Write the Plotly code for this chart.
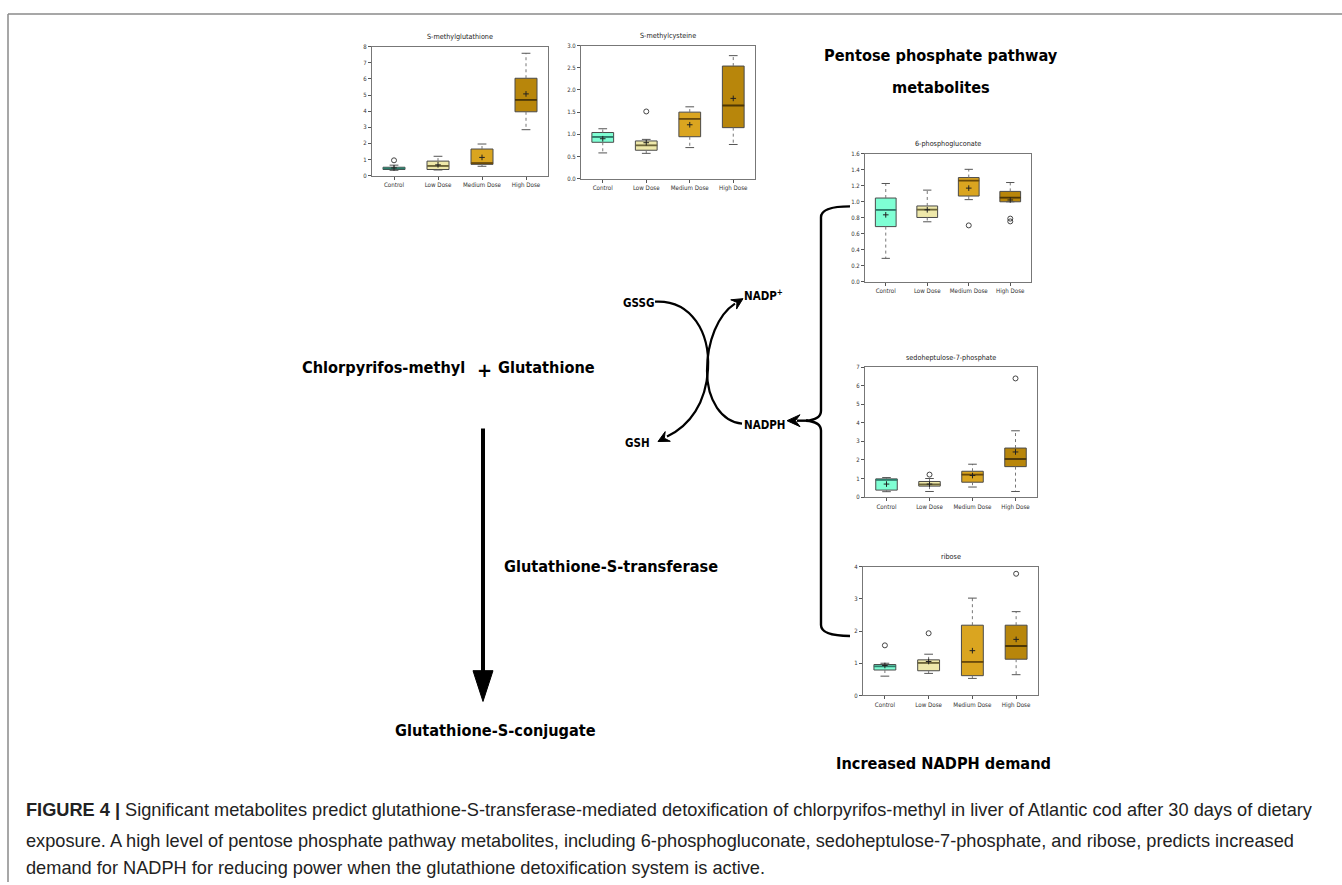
import math
import plotly.graph_objects as go

W, H = 1342, 885

# ---------------- data ----------------
categories = ["Control", "Low Dose", "Medium Dose", "High Dose"]

# S-methylglutathione
smglut_lower = [0.33, 0.35, 0.58, 2.85]
smglut_q1 = [0.38, 0.38, 0.70, 3.96]
smglut_median = [0.45, 0.60, 0.78, 4.70]
smglut_q3 = [0.52, 0.90, 1.65, 6.04]
smglut_upper = [0.65, 1.20, 1.96, 7.59]
smglut_mean = [0.48, 0.67, 1.13, 5.07]
smglut_out_group = [0]
smglut_out_value = [0.95]
smglut_ticks = [0, 1, 2, 3, 4, 5, 6, 7, 8]

# S-methylcysteine
smcys_lower = [0.58, 0.57, 0.70, 0.77]
smcys_q1 = [0.82, 0.64, 0.945, 1.15]
smcys_median = [0.94, 0.75, 1.35, 1.65]
smcys_q3 = [1.04, 0.85, 1.50, 2.54]
smcys_upper = [1.125, 0.885, 1.62, 2.775]
smcys_mean = [0.90, 0.81, 1.215, 1.81]
smcys_out_group = [1]
smcys_out_value = [1.515]
smcys_ticks = [0.0, 0.5, 1.0, 1.5, 2.0, 2.5, 3.0]

# 6-phosphogluconate
pg6_lower = [0.293, 0.75, 1.027, 1.0]
pg6_q1 = [0.69, 0.804, 1.072, 1.0]
pg6_median = [0.90, 0.903, 1.266, 1.052]
pg6_q3 = [1.047, 0.948, 1.303, 1.13]
pg6_upper = [1.229, 1.146, 1.406, 1.241]
pg6_mean = [0.837, 0.90, 1.171, 1.023]
pg6_out_group = [2, 3, 3]
pg6_out_value = [0.705, 0.79, 0.755]
pg6_ticks = [0.0, 0.2, 0.4, 0.6, 0.8, 1.0, 1.2, 1.4, 1.6]

# sedoheptulose-7-phosphate
s7p_lower = [0.29, 0.30, 0.54, 0.30]
s7p_q1 = [0.375, 0.59, 0.80, 1.64]
s7p_median = [0.93, 0.68, 1.21, 2.05]
s7p_q3 = [0.98, 0.84, 1.39, 2.64]
s7p_upper = [1.05, 1.00, 1.77, 3.57]
s7p_mean = [0.70, 0.70, 1.16, 2.43]
s7p_out_group = [1, 3]
s7p_out_value = [1.21, 6.39]
s7p_ticks = [0, 1, 2, 3, 4, 5, 6, 7]

# ribose
rib_lower = [0.60, 0.685, 0.53, 0.645]
rib_q1 = [0.79, 0.767, 0.614, 1.125]
rib_median = [0.90, 1.013, 1.043, 1.535]
rib_q3 = [0.96, 1.105, 2.18, 2.18]
rib_upper = [1.0, 1.28, 3.02, 2.60]
rib_mean = [0.93, 1.054, 1.39, 1.74]
rib_out_group = [0, 1, 3]
rib_out_value = [1.555, 1.93, 3.775]
rib_ticks = [0, 1, 2, 3, 4]

# ---------------- styles ----------------
NARROW = "DejaVu Sans Condensed, Liberation Sans Narrow, sans-serif"
SANS = "Liberation Sans, Arial, Helvetica, sans-serif"
fills = ["#7FFFD4", "#EEE8AA", "#DAA520", "#B8860B"]
median_cols = ["#2E7D6B", "#6E6638", "#6B4A08", "#4D3705"]
box_line = "#4a4a4a"

charts = [
    dict(title="S-methylglutathione", lower=smglut_lower, q1=smglut_q1, med=smglut_median, q3=smglut_q3,
         upper=smglut_upper, mean=smglut_mean, og=smglut_out_group, ov=smglut_out_value,
         ticks=smglut_ticks, fmt="d", px=(372, 548, 43, 173)),
    dict(title="S-methylcysteine", lower=smcys_lower, q1=smcys_q1, med=smcys_median, q3=smcys_q3,
         upper=smcys_upper, mean=smcys_mean, og=smcys_out_group, ov=smcys_out_value,
         ticks=smcys_ticks, fmt=".1f", px=(581, 755, 42, 176)),
    dict(title="6-phosphogluconate", lower=pg6_lower, q1=pg6_q1, med=pg6_median, q3=pg6_q3,
         upper=pg6_upper, mean=pg6_mean, og=pg6_out_group, ov=pg6_out_value,
         ticks=pg6_ticks, fmt=".1f", px=(865, 1031, 151, 280)),
    dict(title="sedoheptulose-7-phosphate", lower=s7p_lower, q1=s7p_q1, med=s7p_median, q3=s7p_q3,
         upper=s7p_upper, mean=s7p_mean, og=s7p_out_group, ov=s7p_out_value,
         ticks=s7p_ticks, fmt="d", px=(865, 1037, 366, 497)),
    dict(title="ribose", lower=rib_lower, q1=rib_q1, med=rib_median, q3=rib_q3,
         upper=rib_upper, mean=rib_mean, og=rib_out_group, ov=rib_out_value,
         ticks=rib_ticks, fmt="d", px=(863, 1038, 567, 697)),
]

fig = go.Figure()
layout = dict(width=W, height=H, margin=dict(l=0, r=0, t=0, b=0),
              paper_bgcolor="white", plot_bgcolor="white", showlegend=False)
annotations = []
shapes = []


def X(x):
    return x / W


def Y(y):
    return 1 - y / H


for k, c in enumerate(charts, start=1):
    xs = "x" if k == 1 else f"x{k}"
    ys = "y" if k == 1 else f"y{k}"
    x0, x1, y0, y1 = c["px"]
    for g in range(4):
        fig.add_trace(go.Box(
            x=[g], q1=[c["q1"][g]], median=[c["med"][g]], q3=[c["q3"][g]],
            lowerfence=[c["q1"][g]], upperfence=[c["q3"][g]],
            width=0.5, fillcolor=fills[g], line=dict(color=box_line, width=1),
            whiskerwidth=0, boxpoints=False, hoverinfo="skip",
            xaxis=xs, yaxis=ys))
    # whiskers (dotted) and caps
    wx, wy, cx, cy = [], [], [], []
    for g in range(4):
        wx += [g, g, None, g, g, None]
        wy += [c["q3"][g], c["upper"][g], None, c["q1"][g], c["lower"][g], None]
        cx += [g - 0.1, g + 0.1, None, g - 0.1, g + 0.1, None]
        cy += [c["upper"][g], c["upper"][g], None, c["lower"][g], c["lower"][g], None]
    fig.add_trace(go.Scatter(x=wx, y=wy, mode="lines", line=dict(color="#777", width=1, dash="dot"),
                             hoverinfo="skip", xaxis=xs, yaxis=ys))
    fig.add_trace(go.Scatter(x=cx, y=cy, mode="lines", line=dict(color="#555", width=1),
                             hoverinfo="skip", xaxis=xs, yaxis=ys))
    for g in range(4):
        fig.add_trace(go.Scatter(x=[g - 0.25, g + 0.25], y=[c["med"][g], c["med"][g]], mode="lines",
                                 line=dict(color=median_cols[g], width=1.8),
                                 hoverinfo="skip", xaxis=xs, yaxis=ys))
    fig.add_trace(go.Scatter(x=list(range(4)), y=c["mean"], mode="markers",
                             marker=dict(symbol="cross-thin", size=4, line=dict(color="#222", width=1)),
                             hoverinfo="skip", xaxis=xs, yaxis=ys))
    fig.add_trace(go.Scatter(x=c["og"], y=c["ov"], mode="markers",
                             marker=dict(symbol="circle-open", size=5, color="#444", line=dict(width=1)),
                             hoverinfo="skip", xaxis=xs, yaxis=ys))
    xkey = "xaxis" if k == 1 else f"xaxis{k}"
    ykey = "yaxis" if k == 1 else f"yaxis{k}"
    layout[xkey] = dict(domain=[X(x0), X(x1)], range=[-0.5, 3.5], tickvals=[0, 1, 2, 3],
                        ticktext=categories, ticks="outside", ticklen=3, tickcolor="#555",
                        showline=True, mirror=True, linecolor="#777", linewidth=1,
                        showgrid=False, zeroline=False, anchor=ys, fixedrange=True,
                        tickfont=dict(family=NARROW, size=6.2, color="#333"))
    layout[ykey] = dict(domain=[Y(y1), Y(y0)], range=[0, c["ticks"][-1]], tickvals=c["ticks"],
                        tickformat=c["fmt"], ticks="outside", ticklen=3, tickcolor="#555",
                        showline=True, mirror=True, linecolor="#777", linewidth=1,
                        showgrid=False, zeroline=False, anchor=xs, fixedrange=True,
                        tickfont=dict(family=NARROW, size=6, color="#333"))
    annotations.append(dict(text=c["title"], x=X((x0 + x1) / 2), y=Y(y0 - 10), xref="paper", yref="paper",
                            showarrow=False, xanchor="center", yanchor="middle",
                            font=dict(family=NARROW, size=7.2, color="#222")))


# ---------------- diagram ----------------
def P(x, y):
    return f"{X(x):.5f},{Y(y):.5f}"


def path(cmds):
    out = []
    for cmd in cmds:
        op, pts = cmd[0], cmd[1:]
        out.append(op + " " + " ".join(P(*p) for p in pts))
    return " ".join(out)


def head(tip, d, L=11, w=5.5, concave=0.35):
    n = math.hypot(*d)
    dx, dy = d[0] / n, d[1] / n
    bx, by = tip[0] - L * dx, tip[1] - L * dy
    nx, ny = -dy, dx
    p1 = (bx + w * nx, by + w * ny)
    p2 = (bx - w * nx, by - w * ny)
    inner = (tip[0] - (1 - concave) * L * dx, tip[1] - (1 - concave) * L * dy)
    return path([("M", tip), ("L", p1), ("L", inner), ("L", p2)]) + " Z"


def line_shape(p, width=2.2, color="black"):
    return dict(type="path", path=p, xref="paper", yref="paper",
                line=dict(color=color, width=width), fillcolor="rgba(0,0,0,0)", layer="above")


def fill_shape(p, color="black"):
    return dict(type="path", path=p, xref="paper", yref="paper",
                line=dict(color=color, width=1), fillcolor=color, layer="above")


# figure frame
shapes.append(line_shape(path([("M", (8, 10)), ("L", (1342, 10))]), width=1.5, color="#8a8a8a"))
shapes.append(line_shape(path([("M", (8, 10)), ("L", (8, 885))]), width=1.5, color="#8a8a8a"))

# big vertical arrow
shapes.append(line_shape(path([("M", (483, 428)), ("L", (483, 676))]), width=4))
shapes.append(fill_shape(head((483, 703), (0, 1), L=31, w=10, concave=0.0)))

# GSSG -> GSH curve
shapes.append(line_shape(path([("M", (655, 300)), ("C", (692, 298), (710, 332), (708, 368)),
                               ("C", (706, 402), (690, 425), (667, 436))])))
shapes.append(fill_shape(head((658, 441), (-0.9, 0.47))))

# NADPH -> NADP+ curve
shapes.append(line_shape(path([("M", (742, 423)), ("C", (722, 421), (707, 400), (707, 370)),
                               ("C", (707, 340), (718, 313), (735, 302))])))
shapes.append(fill_shape(head((743, 297), (0.85, -0.53))))

# bracket from the metabolite plots to NADPH
shapes.append(line_shape(path([("M", (850, 204)), ("Q", (821, 204), (821, 215)), ("L", (821, 410)),
                               ("Q", (821, 419), (806, 420))]), width=2.4))
shapes.append(line_shape(path([("M", (850, 637)), ("Q", (821, 637), (821, 626)), ("L", (821, 430)),
                               ("Q", (821, 421), (806, 420))]), width=2.4))
shapes.append(line_shape(path([("M", (808, 420)), ("L", (797, 420))]), width=2.4))
shapes.append(fill_shape(head((787, 420), (-1, 0), L=13, w=6)))


def label(text, x, y, size=16, anchor="center", family=NARROW, color="black"):
    annotations.append(dict(text=text, x=X(x), y=Y(y), xref="paper", yref="paper", showarrow=False,
                            xanchor=anchor, yanchor="middle", font=dict(family=family, size=size, color=color)))


BIG = 16.2
label("<b>Pentose phosphate pathway</b>", 941, 52, size=BIG)
label("<b>metabolites</b>", 941, 84, size=BIG)
label("<b>Chlorpyrifos-methyl</b>", 383, 366, size=BIG)
label("<b>+</b>", 484, 369, size=20)
label("<b>Glutathione</b>", 546, 366, size=BIG)
label("<b>GSSG</b>", 638, 301, size=11.5)
label("<b>NADP<sup>+</sup></b>", 764, 294, size=11.5)
label("<b>NADPH</b>", 765, 424, size=11.5)
label("<b>GSH</b>", 637, 443, size=11.5)
label("<b>Glutathione-S-transferase</b>", 611, 567, size=BIG)
label("<b>Glutathione-S-conjugate</b>", 495, 732, size=BIG)
label("<b>Increased NADPH demand</b>", 943, 766, size=BIG)

cap_color = "#222"
CAP = 18.2
label("<b>FIGURE 4 |</b> Significant metabolites predict glutathione-S-transferase-mediated detoxification "
      "of chlorpyrifos-methyl in liver of Atlantic cod after 30 days of dietary", 24, 812,
      size=CAP, anchor="left", family=SANS, color=cap_color)
label("exposure. A high level of pentose phosphate pathway metabolites, including 6-phosphogluconate, "
      "sedoheptulose-7-phosphate, and ribose, predicts increased", 24, 844,
      size=CAP, anchor="left", family=SANS, color=cap_color)
label("demand for NADPH for reducing power when the glutathione detoxification system is active.", 24, 871,
      size=CAP, anchor="left", family=SANS, color=cap_color)

layout["annotations"] = annotations
layout["shapes"] = shapes
fig.update_layout(**layout)

fig.write_html("out.html", config={"displayModeBar": False},
               post_script="document.body.style.margin='0';")
